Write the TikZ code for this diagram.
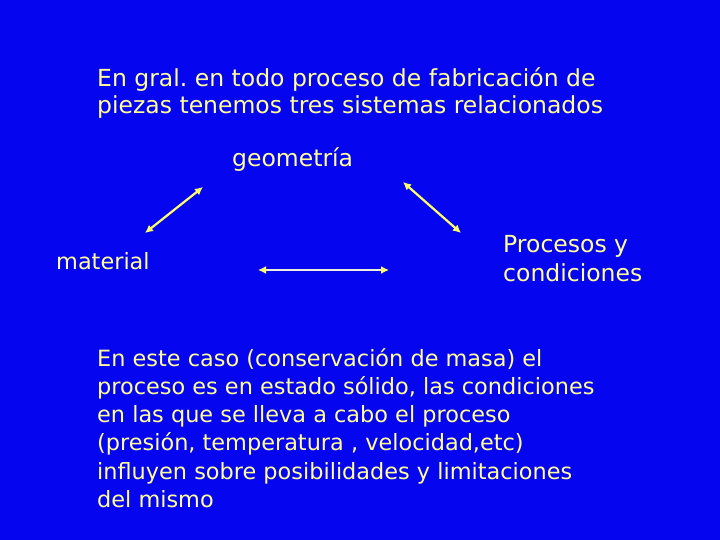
\documentclass[tikz,border=0pt]{standalone}
\usepackage{fontspec}
\setmainfont{DejaVu Sans}
\frenchspacing
\usetikzlibrary{arrows.meta}
\definecolor{bg}{HTML}{0505F0}
\definecolor{txt}{HTML}{FFFF99}
\definecolor{arr}{HTML}{FFFF66}
\definecolor{hline}{HTML}{F0F0D8}
\tikzset{
  lbl/.style={anchor=base west, inner sep=0pt, text=txt, align=left},
  big/.style={lbl, font=\fontsize{23.5}{27}\selectfont},
  small/.style={lbl, font=\fontsize{22.4}{28.3}\selectfont},
  dbl/.style={draw=arr, line width=2.2pt, {Latex[length=8pt,width=8pt,color=arr]}-{Latex[length=8pt,width=8pt,color=arr]}}
}
\begin{document}
\begin{tikzpicture}[x=1pt,y=-1pt]
\fill[bg] (0,0) rectangle (720,540);
\useasboundingbox (0,0) rectangle (720,540);
% multi-line nodes: base anchor = baseline of last line
\node[big] (title) at (97,114) {En gral. en todo proceso de fabricación de\\piezas tenemos tres sistemas relacionados};
\node[big] (geo) at (232,167) {geometría};
\node[small] (mat) at (56,269) {material};
\node[big, font=\fontsize{23.5}{29}\selectfont] (proc) at (503,281) {Procesos y\\condiciones};
\coordinate (a1) at (145,233);
\coordinate (a2) at (203,187);
\coordinate (b1) at (403,182);
\coordinate (b2) at (461,233);
\coordinate (c1) at (258,270);
\coordinate (c2) at (389,270);
\draw[dbl] (a1) -- (a2);
\draw[dbl] (b1) -- (b2);
\draw[dbl, draw=hline] (c1) -- (c2);
\node[small] (body) at (97,507.5) {En este caso (conservación de masa) el\\proceso es en estado sólido, las condiciones\\en las que se lleva a cabo el proceso\\(presión, temperatura , velocidad,etc)\\influyen sobre posibilidades y limitaciones\\del mismo};
\end{tikzpicture}
\end{document}
